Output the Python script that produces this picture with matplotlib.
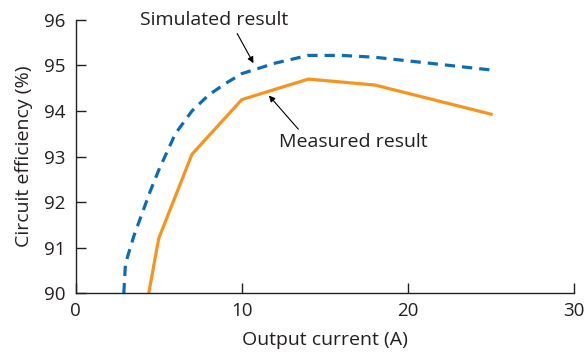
import matplotlib.pyplot as plt
import numpy as np

plt.rcParams['font.family'] = ['Open Sans', 'DejaVu Sans']

# simulated efficiency (blue dashed)
sim_x = [2.9, 3.0, 3.5, 4.0, 4.5, 5.0, 5.5, 6.0, 7.0, 8.0, 9.0, 10.0, 12.0, 14.0, 16.0, 18.0, 20.0, 25.0]
sim_y = [90.0, 90.65, 91.25, 91.75, 92.25, 92.7, 93.1, 93.5, 94.0, 94.35, 94.6, 94.82, 95.05, 95.22, 95.22, 95.18, 95.1, 94.9]

# measured efficiency (orange)
meas_x = [4.4, 5.0, 7.0, 10.0, 14.0, 18.0, 25.0]
meas_y = [90.0, 91.2, 93.05, 94.25, 94.7, 94.57, 93.93]

xticks = [0, 10, 20, 30]
yticks = [90, 91, 92, 93, 94, 95, 96]

txt = '#231f20'
fs = 14

fig = plt.figure(figsize=(5.86, 3.55), dpi=100)
ax = fig.add_axes([0.129, 0.174, 0.851, 0.77])

ax.plot(sim_x, sim_y, color='#0a6db5', linewidth=2.3, linestyle=(0, (3.2, 2.2)))
ax.plot(meas_x, meas_y, color='#f7941d', linewidth=2.3)

ax.set_xlim(0, 30)
ax.set_ylim(90, 96)
ax.set_xticks(xticks)
ax.set_yticks(yticks)
ax.spines['top'].set_visible(False)
ax.spines['right'].set_visible(False)
for s in ['left', 'bottom']:
    ax.spines[s].set_color(txt)
    ax.spines[s].set_linewidth(1.0)
ax.tick_params(direction='in', length=7, width=1.0, color=txt, labelcolor=txt, labelsize=13.5)
ax.tick_params(axis='x', pad=6)
ax.tick_params(axis='y', pad=7)
ax.set_xlabel('Output current (A)', fontsize=fs, color=txt, labelpad=8)
ax.set_ylabel('Circuit efficiency (%)', fontsize=fs, color=txt, labelpad=8)

arrow = dict(arrowstyle='-|>', color='black', lw=0.8, mutation_scale=9, shrinkA=0, shrinkB=0)
ax.annotate('', xy=(10.7, 95.05), xytext=(9.72, 95.7), arrowprops=arrow)
ax.text(8.35, 96.0, 'Simulated result', fontsize=fs, color=txt, ha='center', va='center')
ax.annotate('', xy=(11.63, 94.34), xytext=(13.4, 93.6), arrowprops=arrow)
ax.text(16.68, 93.31, 'Measured result', fontsize=fs, color=txt, ha='center', va='center')

plt.savefig('out.png', dpi=100)
